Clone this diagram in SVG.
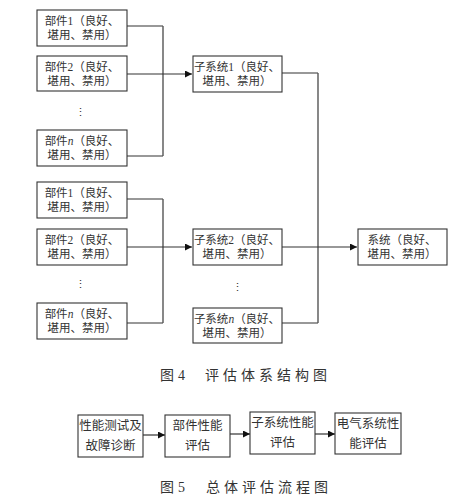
<svg xmlns="http://www.w3.org/2000/svg" width="455" height="501" viewBox="0 0 455 501">
<style>
.box{fill:#fff;stroke:#333;stroke-width:1.1}
.t{font-family:"Liberation Serif","Noto Sans CJK SC",serif;font-size:11.5px;fill:#333;text-anchor:middle}
.t2{font-family:"Liberation Serif","Noto Sans CJK SC",serif;font-size:12.5px;fill:#333;text-anchor:middle}
.cap{font-family:"Liberation Serif","Noto Sans CJK SC",serif;font-size:14px;fill:#333;letter-spacing:4px}
.ln{fill:none;stroke:#333;stroke-width:1.2}
.v{fill:none;stroke:#555;stroke-width:1.4}
.dot{font-family:"Liberation Serif","Noto Sans CJK SC",serif;font-size:11px;fill:#333;text-anchor:middle}
</style>
<defs>
<marker id="ah" viewBox="0 0 10 10" refX="10" refY="5" markerWidth="7" markerHeight="7" markerUnits="userSpaceOnUse" orient="auto">
<path d="M0,0 L10,5 L0,10 z" fill="#111"/>
</marker>
</defs>
<rect width="455" height="501" fill="#fff"/>
<g id="connectors">
<polyline class="ln" points="127,26 163,26"/>
<polyline class="ln" points="127,156 163,156"/>
<line class="v" x1="163" y1="26" x2="163" y2="156"/>
<line class="ln" x1="127" y1="74" x2="192" y2="74" marker-end="url(#ah)"/>
<polyline class="ln" points="127,199 163,199"/>
<polyline class="ln" points="127,323 163,323"/>
<line class="v" x1="163" y1="199" x2="163" y2="323"/>
<line class="ln" x1="127" y1="247" x2="192" y2="247" marker-end="url(#ah)"/>
<polyline class="ln" points="282,73 318,73"/>
<polyline class="ln" points="282,323 318,323"/>
<line class="v" x1="318" y1="73" x2="318" y2="323"/>
<line class="ln" x1="282" y1="247" x2="357" y2="247" marker-end="url(#ah)"/>
<line class="ln" x1="143" y1="435" x2="165" y2="435" marker-end="url(#ah)"/>
<line class="ln" x1="230" y1="434" x2="250" y2="434" marker-end="url(#ah)"/>
<line class="ln" x1="315" y1="434" x2="335" y2="434" marker-end="url(#ah)"/>
</g>
<g id="part1a"><rect class="box" x="37" y="10" width="90" height="36"/><text class="t" x="82" y="25">部件1（良好、</text><text class="t" x="82" y="39">堪用、禁用）</text></g>
<g id="part2a"><rect class="box" x="37" y="56" width="90" height="35"/><text class="t" x="82" y="71">部件2（良好、</text><text class="t" x="82" y="85">堪用、禁用）</text></g>
<text class="dot" x="80" y="116">⋮</text>
<g id="partna"><rect class="box" x="37" y="130" width="90" height="36"/><text class="t" x="82" y="145">部件<tspan font-style="italic">n</tspan>（良好、</text><text class="t" x="82" y="159">堪用、禁用）</text></g>
<g id="part1b"><rect class="box" x="37" y="182" width="90" height="36"/><text class="t" x="82" y="197">部件1（良好、</text><text class="t" x="82" y="211">堪用、禁用）</text></g>
<g id="part2b"><rect class="box" x="37" y="229" width="90" height="36"/><text class="t" x="82" y="244">部件2（良好、</text><text class="t" x="82" y="258">堪用、禁用）</text></g>
<text class="dot" x="80" y="288">⋮</text>
<g id="partnb"><rect class="box" x="37" y="303" width="90" height="36"/><text class="t" x="82" y="318">部件<tspan font-style="italic">n</tspan>（良好、</text><text class="t" x="82" y="332">堪用、禁用）</text></g>
<g id="sub1"><rect class="box" x="193" y="56" width="89" height="36"/><text class="t" x="237" y="71">子系统1（良好、</text><text class="t" x="237" y="85">堪用、禁用）</text></g>
<g id="sub2"><rect class="box" x="193" y="229" width="89" height="36"/><text class="t" x="237" y="244">子系统2（良好、</text><text class="t" x="237" y="258">堪用、禁用）</text></g>
<text class="dot" x="237" y="291">⋮</text>
<g id="subn"><rect class="box" x="193" y="308" width="89" height="35"/><text class="t" x="237" y="323">子系统<tspan font-style="italic">n</tspan>（良好、</text><text class="t" x="237" y="337">堪用、禁用）</text></g>
<g id="system"><rect class="box" x="358" y="229" width="89" height="36"/><text class="t" x="402" y="244">系统（良好、</text><text class="t" x="402" y="258">堪用、禁用）</text></g>
<g id="cap4"><text class="cap" x="160" y="380">图4</text><text class="cap" x="205" y="380">评估体系结构图</text></g>
<g id="f1"><rect class="box" x="78" y="415" width="65" height="42"/><text class="t2" x="110.5" y="430">性能测试及</text><text class="t2" x="110.5" y="450">故障诊断</text></g>
<g id="f2"><rect class="box" x="165" y="415" width="65" height="42"/><text class="t2" x="197.5" y="430">部件性能</text><text class="t2" x="197.5" y="450">评估</text></g>
<g id="f3"><rect class="box" x="250" y="412" width="65" height="42"/><text class="t2" x="282.5" y="427">子系统性能</text><text class="t2" x="282.5" y="447">评估</text></g>
<g id="f4"><rect class="box" x="335" y="413" width="66" height="41"/><text class="t2" x="368" y="428">电气系统性</text><text class="t2" x="368" y="448">能评估</text></g>
<g id="cap5"><text class="cap" x="160" y="492">图5</text><text class="cap" x="206" y="492">总体评估流程图</text></g>
</svg>
